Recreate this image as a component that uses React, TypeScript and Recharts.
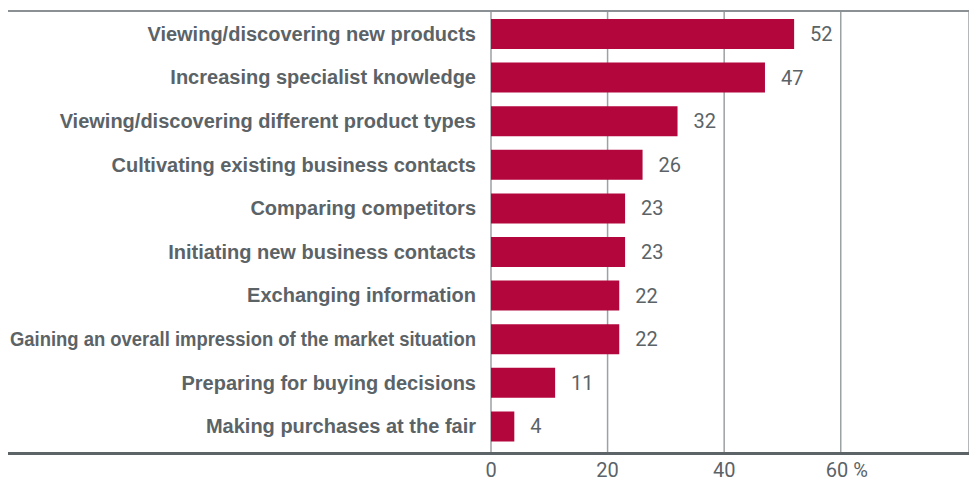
import { Bar, BarChart, CartesianGrid, LabelList, XAxis, YAxis } from "recharts";

const categories = [
  "Viewing/discovering new products",
  "Increasing specialist knowledge",
  "Viewing/discovering different product types",
  "Cultivating existing business contacts",
  "Comparing competitors",
  "Initiating new business contacts",
  "Exchanging information",
  "Gaining an overall impression of the market situation",
  "Preparing for buying decisions",
  "Making purchases at the fair",
];
const shares = [52, 47, 32, 26, 23, 23, 22, 22, 11, 4];
const xTicks = [0, 20, 40, 60];

const rows = categories.map((name, i) => ({ name, value: shares[i] }));

const TEXT = "#5b6367";
const BAR = "#b3063d";
const LABEL_RIGHT = 476;

const XTick = ({ x, y, payload }: any) => (
  <text
    x={payload.value === 60 ? x - 15 : x}
    y={y + 17}
    textAnchor={payload.value === 60 ? "start" : "middle"}
    fill={TEXT}
    fontSize={20}
    fontFamily="Roboto, sans-serif"
  >
    {payload.value === 60 ? "60 %" : payload.value}
  </text>
);

const YTick = ({ y, payload }: any) => {
  const long = String(payload.value).length > 45;
  return (
    <text
      x={LABEL_RIGHT}
      y={y + 7}
      textAnchor="end"
      fill={TEXT}
      fontSize={20}
      fontWeight="bold"
      fontFamily="'Liberation Sans', Arial, sans-serif"
      textLength={long ? 466 : undefined}
      lengthAdjust={long ? "spacingAndGlyphs" : undefined}
    >
      {payload.value}
    </text>
  );
};

export default function App() {
  return (
    <div style={{ position: "absolute", left: 0, top: 0, width: 969, height: 498 }}>
      <BarChart
        width={969}
        height={498}
        layout="vertical"
        data={rows}
        margin={{ top: 12, right: 0, bottom: 0, left: 0 }}
        barCategoryGap="16%"
      >
        <CartesianGrid horizontal={false} stroke="#9ca1a4" strokeWidth={1.5} />
        <XAxis
          type="number"
          domain={[0, 82]}
          ticks={xTicks}
          height={46}
          axisLine={false}
          tickLine={false}
          tick={<XTick />}
        />
        <YAxis
          type="category"
          dataKey="name"
          width={491}
          axisLine={false}
          tickLine={false}
          tick={<YTick />}
          interval={0}
          padding={{ top: 0, bottom: 4 }}
        />
        <Bar dataKey="value" fill={BAR} isAnimationActive={false}>
          <LabelList
            dataKey="value"
            position="right"
            offset={16}
            fill={TEXT}
            fontSize={20}
            fontFamily="Roboto, sans-serif"
          />
        </Bar>
      </BarChart>
      <div style={{ position: "absolute", left: 8, top: 10, width: 961, height: 2, background: "#8a9094" }} />
      <div style={{ position: "absolute", left: 8, top: 452, width: 961, height: 3, background: "#5d6468" }} />
    </div>
  );
}
